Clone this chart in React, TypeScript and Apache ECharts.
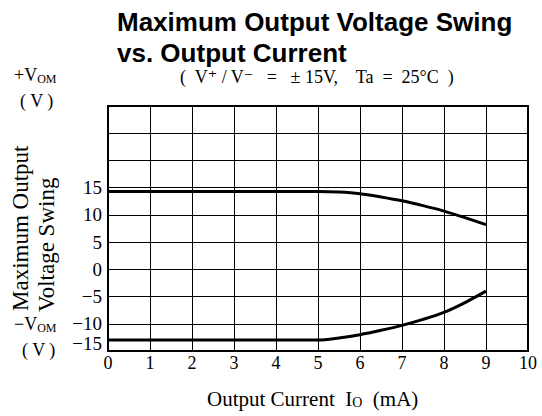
import React, { useEffect, useRef } from "react";
import * as echarts from "echarts";

const currents = [0, 1, 2, 3, 4, 5, 5.5, 6, 6.5, 7, 7.5, 8, 8.5, 9];
const positiveSwing = [14.3, 14.3, 14.3, 14.3, 14.3, 14.3, 14.2, 13.9, 13.3, 12.6, 11.7, 10.7, 9.5, 8.2];
const negativeSwing = [-13.0, -13.0, -13.0, -13.0, -13.0, -13.0, -12.6, -12.0, -11.2, -10.3, -9.2, -7.9, -6.1, -4.0];
const xTicks = ["0", "1", "2", "3", "4", "5", "6", "7", "8", "9", "10"];
const yTickLabels: Record<number, string> = { 15: "15", 10: "10", 5: "5", 0: "0", [-5]: "−5", [-10]: "−10", [-15]: "{r|−15}" };

const SERIF = "'Liberation Serif', 'DejaVu Serif', serif";
const SANS = "'Liberation Sans', Arial, sans-serif";

export default function App() {
  const ref = useRef<HTMLDivElement>(null);
  useEffect(() => {
    document.body.style.margin = "0";
    const chart = echarts.init(ref.current!, null, { renderer: "svg" });
    const mk = (ys: number[]) => currents.map((x, i) => [x, ys[i]]);
    const sub = (size: number) => ({
      n: { font: `${size}px ${SERIF}`, fill: "#000" },
      s: { font: `${Math.round(size * 0.65)}px ${SERIF}`, fill: "#000", padding: [Math.round(size * 0.4), 0, 0, 0] },
    });
    chart.setOption({
      animation: false,
      backgroundColor: "#fff",
      grid: { left: 108, right: 14, top: 106, height: 245, show: true, borderColor: "#000", borderWidth: 2 },
      xAxis: {
        type: "value", min: 0, max: 10, interval: 1,
        axisLine: { show: false }, axisTick: { show: false },
        splitLine: { show: true, lineStyle: { color: "#000", width: 1 } },
        axisLabel: { color: "#000", fontFamily: SERIF, fontSize: 18, margin: 3, formatter: (v: number) => xTicks[Math.round(v)] ?? "" },
      },
      yAxis: {
        type: "value", min: -15, max: 30, interval: 5,
        axisLine: { show: false }, axisTick: { show: false },
        splitLine: { show: true, lineStyle: { color: "#000", width: 1 } },
        axisLabel: {
          color: "#000", fontFamily: SERIF, fontSize: 19, margin: 6,
          formatter: (v: number) => yTickLabels[v] ?? "",
          rich: { r: { fontFamily: SERIF, fontSize: 19, color: "#000", padding: [0, 0, 16, 0] } },
        },
      },
      series: [
        { type: "line", data: mk(positiveSwing), smooth: 0.3, showSymbol: false, lineStyle: { color: "#000", width: 3 } },
        { type: "line", data: mk(negativeSwing), smooth: 0.3, showSymbol: false, lineStyle: { color: "#000", width: 3 } },
      ],
      graphic: [
        { type: "text", left: 117, top: 9, style: { text: "Maximum Output Voltage Swing", font: `bold 26px ${SANS}`, fill: "#000" } },
        { type: "text", left: 117, top: 40, style: { text: "vs. Output Current", font: `bold 26px ${SANS}`, fill: "#000" } },
        { type: "text", left: 180, top: 68, style: { text: "(  V⁺ / V⁻   =   ± 15V,    Ta  =  25°C  )", font: `18px ${SERIF}`, fill: "#000" } },
        { type: "text", left: 14, top: 66, style: { text: "{n|+V}{s|OM}", fill: "#000", rich: sub(18) } },
        { type: "text", left: 20, top: 92, style: { text: "( V )", font: `18px ${SERIF}`, fill: "#000" } },
        { type: "text", left: 14, top: 315, style: { text: "{n|−V}{s|OM}", fill: "#000", rich: sub(18) } },
        { type: "text", left: 22, top: 341, style: { text: "( V )", font: `18px ${SERIF}`, fill: "#000" } },
        {
          type: "text", x: 20, y: 311, rotation: Math.PI / 2,
          style: { text: "Maximum Output", font: `23px ${SERIF}`, fill: "#000", align: "left", verticalAlign: "middle" },
        },
        {
          type: "text", x: 46, y: 312, rotation: Math.PI / 2,
          style: { text: "Voltage Swing", font: `23px ${SERIF}`, fill: "#000", align: "left", verticalAlign: "middle" },
        },
        { type: "text", left: 207, top: 388, style: { text: "{n|Output Current  I}{s|O}{n|  (mA)}", fill: "#000", rich: sub(21) } },
      ],
    });
    return () => chart.dispose();
  }, []);
  return <div ref={ref} style={{ width: 542, height: 416 }} />;
}
